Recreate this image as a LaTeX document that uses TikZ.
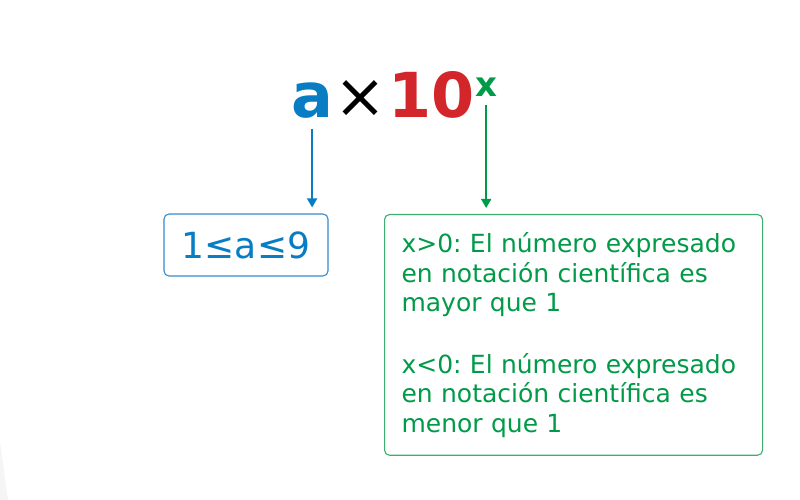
\documentclass[tikz,border=0pt]{standalone}
\usepackage{fontspec}
\setmainfont{DejaVu Sans}
\usetikzlibrary{arrows.meta}
\definecolor{cblue}{RGB}{8,125,195}
\definecolor{cred}{RGB}{210,38,42}
\definecolor{cgreen}{RGB}{0,154,72}
\definecolor{cgreenline}{RGB}{60,175,110}
\definecolor{cblueline}{RGB}{50,140,205}
\begin{document}
\frenchspacing
\begin{tikzpicture}[x=1pt,y=1pt,
  big/.style={inner sep=0pt,anchor=base west,font=\fontsize{62}{62}\selectfont\bfseries},
  arr/.style={line width=1.6pt,-{Triangle[length=9pt,width=10pt]}},
  boxstyle/.style={draw,line width=1.1pt,rounded corners=5pt}]
\useasboundingbox (0,0) rectangle (800,500);
\fill[black!4] (0,58) -- (8,0) -- (0,0) -- cycle;
% formula
\node[big,text=cblue] (a) at (291,382) {a};
\node[inner sep=0pt,anchor=base west,font=\fontsize{62}{62}\selectfont] (times) at (334,382) {×};
\node[big,text=cred] (ten) at (388,382) {10};
\node[inner sep=0pt,anchor=base west,font=\fontsize{34}{34}\selectfont\bfseries,text=cgreen] (ex) at (475,403) {x};
% boxes
\node[boxstyle,draw=cblueline,text=cblue,minimum width=164pt,minimum height=62pt,inner sep=0pt,
  font=\fontsize{36}{36}\selectfont] (b1) at (246,255) {1≤a≤9};
\node[boxstyle,draw=cgreenline,text=cgreen,anchor=north west,inner xsep=17pt,inner ysep=18pt,
  text width=344pt,align=left,font=\fontsize{25}{29.5}\selectfont\frenchspacing] (b2) at (384,286)
  {x>0: El número expresado\\en notación científica es\\mayor que 1\\[32pt]x<0: El número expresado\\en notación científica es\\menor que 1};
% arrows
\draw[arr,cblue] ([yshift=-10pt]a.south) -- ([yshift=6pt]a.south |- b1.north);
\draw[arr,cgreen] ([yshift=-8pt]ex.south) -- ([yshift=6pt]ex.south |- b2.north);
\end{tikzpicture}
\end{document}
